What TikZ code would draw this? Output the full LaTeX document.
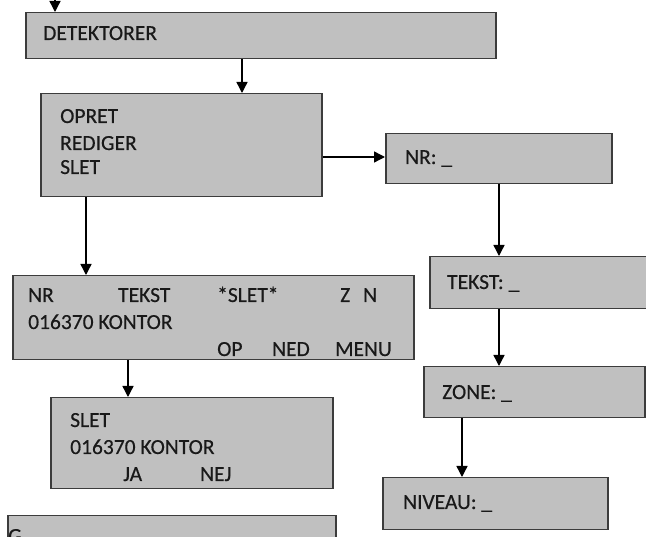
\documentclass[tikz,border=0pt]{standalone}
\usepackage{fontspec}
\setmainfont{Carlito}[FakeBold=0.4]
\usetikzlibrary{arrows.meta}
\definecolor{boxfill}{HTML}{C0C0C0}
\definecolor{boxline}{HTML}{3C3C3C}
\tikzset{
  box/.style={draw=boxline, fill=boxfill, line width=1.5pt, rectangle, inner sep=0pt, anchor=north west},
  lbl/.style={anchor=base west, inner sep=0pt, font=\fontsize{21.5}{26}\selectfont, text=black!90},
  arr/.style={draw=black, line width=1.4pt, -{Triangle[width=11pt,length=11pt]}}
}
\begin{document}
\begin{tikzpicture}[x=1pt,y=-1pt]
\useasboundingbox (0,0) rectangle (646,537);
\clip (0,0) rectangle (646,537);
\fill[white] (0,0) rectangle (646,537);
% boxes
\node[box, minimum width=470pt, minimum height=46pt] (det) at (25,12) {};
\node[box, minimum width=281pt, minimum height=103pt] (opret) at (40,93) {};
\node[box, minimum width=226pt, minimum height=50pt] (nr) at (385,133) {};
\node[box, minimum width=231pt, minimum height=52pt] (tekst) at (429,256) {};
\node[box, minimum width=221pt, minimum height=51pt] (zone) at (423,366) {};
\node[box, minimum width=225pt, minimum height=52pt] (niveau) at (382,477) {};
\node[box, minimum width=401pt, minimum height=84pt] (list) at (12,275) {};
\node[box, minimum width=282pt, minimum height=91pt] (slet) at (50,397) {};
\node[box, minimum width=328pt, minimum height=50pt] (bottom) at (7,515) {};
% column coordinates
\coordinate (cA) at (55,-30);
\coordinate (cB) at (242,0);
\coordinate (cC) at (86,0);
\coordinate (cD) at (499,0);
\coordinate (cE) at (462,0);
\coordinate (cF) at (128,0);
\coordinate (rA) at (0,157);
% connectors
\draw[arr] (cA) -- (det.north -| cA);
\draw[arr] (det.south -| cB) -- (opret.north -| cB);
\draw[arr] (opret.east |- rA) -- (nr.west |- rA);
\draw[arr] (opret.south -| cC) -- (list.north -| cC);
\draw[arr] (nr.south -| cD) -- (tekst.north -| cD);
\draw[arr] (tekst.south -| cD) -- (zone.north -| cD);
\draw[arr] (zone.south -| cE) -- (niveau.north -| cE);
\draw[arr] (list.south -| cF) -- (slet.north -| cF);
% texts
\node[lbl] (t1) at (43,40) {DETEKTORER};
\node[lbl] (t2) at (60,123) {OPRET};
\node[lbl] (t3) at (60,150) {REDIGER};
\node[lbl] (t4) at (60,174) {SLET};
\node[lbl] (t5) at (405,164) {NR: \_};
\node[lbl] (t6) at (447,289) {TEKST: \_};
\node[lbl] (t7) at (442,399) {ZONE: \_};
\node[lbl] (t8) at (403,509) {NIVEAU: \_};
\node[lbl] (l1) at (28,302) {NR};
\node[lbl] (l2) at (118,302) {TEKST};
\node[lbl] (l3) at (217,302) {*SLET*};
\node[lbl] (l4) at (340,302) {Z};
\node[lbl] (l5) at (363,302) {N};
\node[lbl] (l6) at (28,329) {016370 KONTOR};
\node[lbl] (l7) at (217,356) {OP};
\node[lbl] (l8) at (272,356) {NED};
\node[lbl] (l9) at (335,356) {MENU};
\node[lbl] (s1) at (70,427) {SLET};
\node[lbl] (s2) at (70,454) {016370 KONTOR};
\node[lbl] (s3) at (123,481) {JA};
\node[lbl] (s4) at (200,481) {NEJ};
\node[lbl] (g1) at (8,543) {G};
\end{tikzpicture}
\end{document}
